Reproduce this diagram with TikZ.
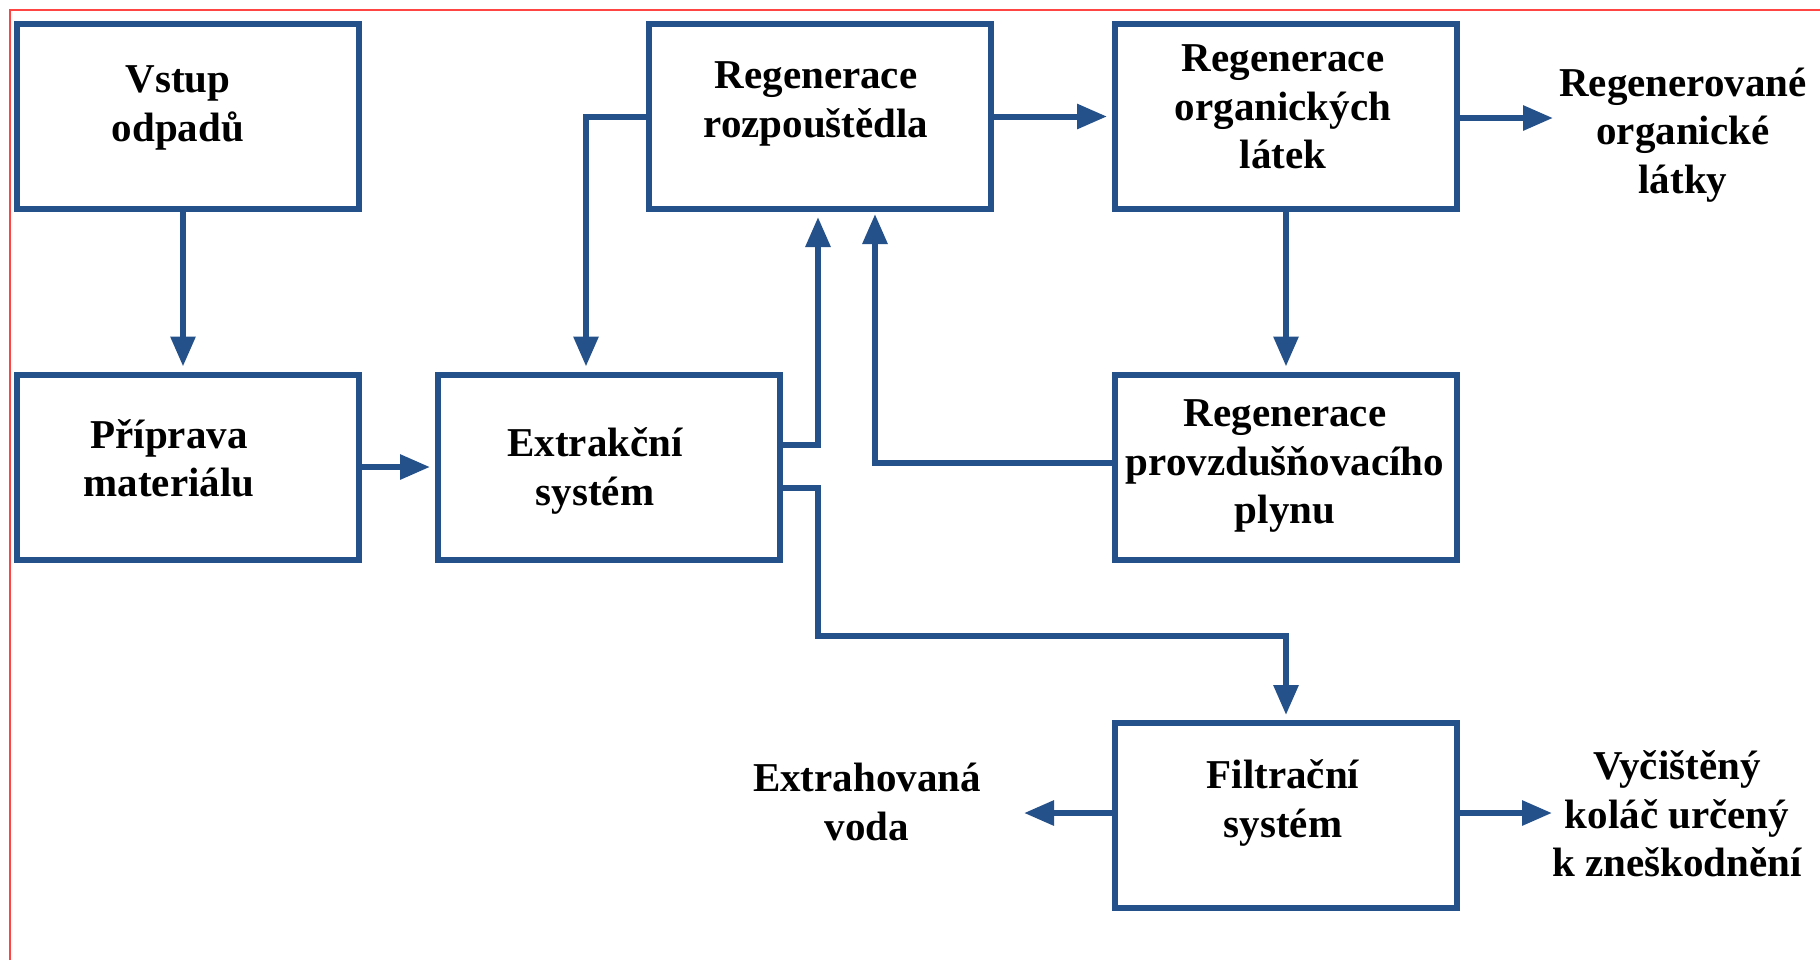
\documentclass[tikz,border=0pt]{standalone}
\usepackage{fontspec}
\setmainfont{Liberation Serif}
\usetikzlibrary{arrows.meta,calc}
\definecolor{flow}{HTML}{24518A}
\definecolor{frame}{HTML}{FF4444}
\begin{document}
\begin{tikzpicture}[x=0.5pt,y=-0.5pt,
  box/.style={draw=flow,line width=3pt,minimum width=171pt,minimum height=92.5pt,inner sep=0pt},
  txt/.style={font=\bfseries\fontsize{20.5}{24.2}\selectfont,align=center,inner sep=0pt},
  conn/.style={draw=flow,line width=3pt,-{Triangle[length=15pt,width=12pt]},shorten >=2.5pt}]
\useasboundingbox (0,0) rectangle (1820,960);
\draw[frame,line width=1pt] (10,960) -- (10,10) -- (1820,10);
% boxes
\node[box] (b1) at (188,116.5) {};
\node[box] (b2) at (188,467) {};
\node[box] (b3) at (609,467) {};
\node[box] (b4) at (820,116.5) {};
\node[box] (b5) at (1286,116.5) {};
\node[box] (b6) at (1286,467) {};
\node[box] (b7) at (1286,815.5) {};
% box texts
\node[txt] (t1) at (178,108) {Vstup\\odpadů};
\node[txt] (t2) at (169,458) {Příprava\\materiálu};
\node[txt] (t3) at (595,471) {Extrakční\\systém};
\node[txt] (t4) at (816,104) {Regenerace\\rozpouštědla};
\node[txt] (t5) at (1283,107) {Regenerace\\organických\\látek};
\node[txt] (t6) at (1285,466) {Regenerace\\provzdušňovacího\\plynu};
\node[txt] (t7) at (1283,803) {Filtrační\\systém};
% free labels
\node[txt] (l1) at (1683,135) {Regenerované\\organické\\látky};
\node[txt] (l2) at (867,802) {Extrahovaná\\voda};
\node[txt] (l3) at (1677,814) {Vyčištěný\\koláč určený\\k zneškodnění};
% helper coordinates
\coordinate (x1) at (183,0);
\coordinate (xa) at (586,0);
\coordinate (ya) at (0,445);
\coordinate (xb) at (818,0);
\coordinate (yc) at (0,463);
\coordinate (xc) at (875,0);
\coordinate (yd) at (0,488);
\coordinate (cA) at (818,636);
\coordinate (e1) at (1553,118);
\coordinate (e2) at (1024,813);
\coordinate (e3) at (1552,813);
% connectors
\draw[conn] (b1.south -| x1) -- (b2.north -| x1);
\draw[conn] (b2.east) -- (b3.west);
\draw[conn] (b4.west) -| (b3.north -| xa);
\draw[conn] (b3.east |- ya) -| (b4.south -| xb);
\draw[conn,shorten >=1pt] (b6.west |- yc) -| (b4.south -| xc);
\draw[conn] (b4.east) -- (b5.west);
\draw[conn] (b5.south) -- (b6.north);
\draw[conn,shorten >=0pt] (b5.east |- e1) -- (e1);
\draw[conn] (b3.east |- yd) -| (cA) -| (b7.north);
\draw[conn,shorten >=0pt] (b7.west |- e2) -- (e2);
\draw[conn,shorten >=0pt] (b7.east |- e3) -- (e3);
\end{tikzpicture}
\end{document}
